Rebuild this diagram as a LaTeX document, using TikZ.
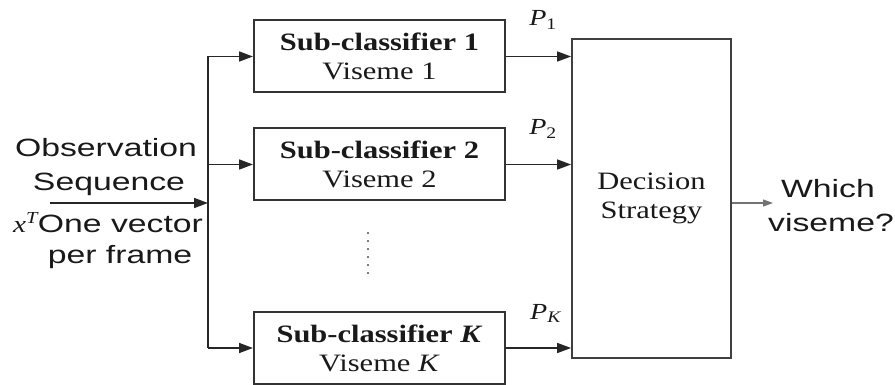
\documentclass[tikz,border=0pt]{standalone}
\usepackage{fontspec}
\setmainfont{Liberation Serif}[FakeStretch=1.22]
\newfontfamily\labelsans{Liberation Sans}[FakeStretch=1.35]
\usetikzlibrary{arrows.meta}

\tikzset{
  wire/.style={line width=1.6pt, draw=black!85},
  arr/.style={wire, -{Triangle[length=14pt,width=10pt]}},
  outarr/.style={line width=1.1pt, draw=black!55, -{Triangle[length=10pt,width=7pt]}, fill=black!45},
  blk/.style={draw=black!80, line width=2pt, minimum width=251pt, minimum height=72pt,
    align=center, inner sep=0pt, font=\rmfamily\fontsize{25}{29}\selectfont, text=black!90},
  decbox/.style={draw=black!75, line width=1.8pt, minimum width=159pt, minimum height=319pt,
    align=center, inner sep=0pt, font=\rmfamily\fontsize{25}{29}\selectfont, text=black!90},
  sanslbl/.style={anchor=base, inner sep=0pt, font=\labelsans\fontsize{25}{29}\selectfont, text=black!90},
  plbl/.style={anchor=base, inner sep=0pt, font=\rmfamily\fontsize{23}{26}\selectfont, text=black!90},
}

\begin{document}
\begin{tikzpicture}[x=1pt,y=-1pt]
\useasboundingbox (0,0) rectangle (895,385);

% classifier blocks
\node[blk] (s1) at (379.5,56.5) {\textbf{Sub-classifier 1}\\Viseme 1};
\node[blk] (s2) at (379.5,164.5) {\textbf{Sub-classifier 2}\\Viseme 2};
\node[blk] (sK) at (379.5,348) {\textbf{Sub-classifier \textit{K}}\\Viseme \textit{K}};

% decision block
\node[decbox] (dec) at (651.5,198.5) {Decision\\Strategy};

% input side
\coordinate (in) at (50,203);
\coordinate (split) at (208,203);
\draw[arr] (in) -- (split);
\draw[wire] (split |- s1.west) -- (split |- sK.west);
\draw[arr] (split |- s1.west) -- (s1.west);
\draw[arr] (split |- s2.west) -- (s2.west);
\draw[arr] (split |- sK.west) -- (sK.west);

\node[sanslbl] (obs) at (106,157) {Observation};
\node[sanslbl] (seq) at (109,190) {Sequence};
\node[sanslbl] (vec) at (108,233) {{\rmfamily\itshape\fontsize{24}{26}\selectfont x\textsuperscript{T}}One vector};
\node[sanslbl] (pf) at (120,263) {per frame};

% classifier outputs
\draw[arr] (s1.east) -- (s1.east -| dec.west);
\draw[arr] (s2.east) -- (s2.east -| dec.west);
\draw[arr] (sK.east) -- (sK.east -| dec.west);

\node[plbl] (p1) at (543,26) {\textit{P}\textsubscript{1}};
\node[plbl] (p2) at (543,135) {\textit{P}\textsubscript{2}};
\node[plbl] (pk) at (546,319) {\textit{P}\textsubscript{\textit{K}}};

% vertical ellipsis between blocks
\coordinate (dtop) at (368,233);
\coordinate (dbot) at (368,273);
\draw[line width=2.4pt, line cap=round, dash pattern=on 0pt off 8pt, black!70] (dtop) -- (dbot);

% decision output
\coordinate (outstart) at (dec.east |- 0,203);
\coordinate (outend) at (773,203);
\draw[outarr] (outstart) -- (outend);
\node[sanslbl] (which) at (828,198) {Which};
\node[sanslbl] (vis) at (831,232) {viseme?};
\end{tikzpicture}
\end{document}
